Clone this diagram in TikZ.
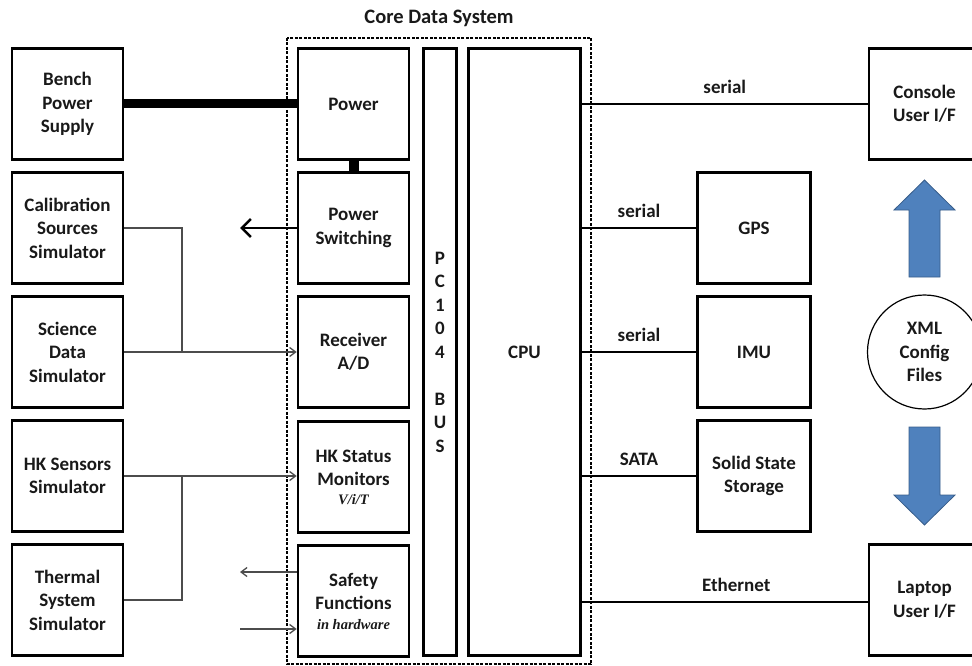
\documentclass[tikz,border=0pt]{standalone}
\usepackage{fontspec}
\setmainfont{Carlito}
\newfontfamily\notefont{Liberation Serif}
\newcommand\notestyle{\notefont\bfseries\itshape\fontsize{14.5}{16}\selectfont}
\usetikzlibrary{arrows.meta}
\definecolor{cfgfill}{RGB}{79,129,189}
\definecolor{cfgedge}{RGB}{56,93,138}

\begin{document}
\begin{tikzpicture}[x=1pt,y=-1pt,
  blk/.style={draw=black,line width=2.6pt,minimum width=111pt,minimum height=111pt,
    inner sep=2pt,align=center,text=black!90,
    font=\bfseries\fontsize{19}{23.5}\selectfont},
  tall/.style={blk,minimum height=607pt},
  frame/.style={draw=black,line width=2.2pt,dash pattern=on 3pt off 1.5pt},
  feed/.style={draw=black!70,line width=1.3pt},
  thin tip/.style={-{Straight Barb[length=6pt,width=9pt,line width=1.3pt]}},
  link/.style={draw=black,line width=1.2pt},
  lbl/.style={above=6pt,font=\bfseries\fontsize{19}{21}\selectfont,text=black!90},
  cfg/.style={fill=cfgfill,draw=cfgedge,line width=0.8pt}
]
\useasboundingbox (0,0) rectangle (972,666);

% title and boundary of the core data system
\node[font=\bfseries\fontsize{20.5}{23}\selectfont,text=black!90] (title) at (439,18) {Core Data System};
\draw[frame] (287,38) rectangle (591,664);

% simulators and bench equipment
\node[blk] (bench) at (67.5,104) {Bench\\Power\\Supply};
\node[blk] (cal)   at (67.5,228) {Calibration\\Sources\\Simulator};
\node[blk] (sci)   at (67.5,352) {Science\\Data\\Simulator};
\node[blk] (hks)   at (67.5,476) {HK Sensors\\Simulator};
\node[blk] (therm) at (67.5,600) {Thermal\\System\\Simulator};

% core data system modules
\node[blk] (power) at (353.5,104) {Power};
\node[blk] (psw)   at (353.5,228) {Power\\Switching};
\node[blk] (rx)    at (353.5,352) {Receiver\\A/D};
\node[blk] (hkm)   at (353.5,477) {HK Status\\Monitors\\[-5pt]{\notestyle V/i/T}};
\node[blk] (safe)  at (353.5,601) {Safety\\Functions\\[-4pt]{\notestyle in hardware}};
\node[tall,minimum width=33pt] (bus) at (440,352) {P\\C\\1\\0\\4\\\mbox{}\\B\\U\\S};
\node[tall,minimum width=112pt] (cpu) at (524.5,352) {CPU};

% peripherals
\node[blk,minimum width=113pt] (gps) at (754,228) {GPS};
\node[blk,minimum width=113pt] (imu) at (754,352) {IMU};
\node[blk,minimum width=113pt] (sss) at (754,476) {Solid State\\Storage};
\node[blk] (console) at (924.5,104) {Console\\User I/F};
\node[blk] (laptop)  at (924.5,600) {Laptop\\User I/F};
\node[draw=black,line width=1.2pt,circle,minimum size=114pt,inner sep=0pt,align=center,
  text=black!90,font=\bfseries\fontsize{19}{23.5}\selectfont] (xml) at (924.5,352) {XML\\Config\\Files};

% power distribution
\draw[line width=9pt] (bench.east) -- (power.west);
\draw[line width=10pt] (power.south) -- (psw.north);
\coordinate (pswend) at (240,228);
\draw[line width=2.5pt,-{Straight Barb[length=9pt,width=18pt]}] (psw.west) -- (pswend);

% simulator feeds
\coordinate (ja) at (182,352);
\coordinate (jb) at (182,476);
\draw[feed] (cal.east) -| (ja);
\draw[feed,thin tip] (sci.east) -- (rx.west);
\draw[feed] (therm.east) -| (jb);
\draw[feed,thin tip] (hks.east) -- (hkm.west |- hks.east);

% safety lines
\coordinate (sout) at (240,572);
\coordinate (sin)  at (240,629);
\draw[feed,thin tip] (safe.west |- sout) -- (sout);
\draw[feed,thin tip] (sin) -- (safe.west |- sin);

% CPU interfaces
\draw[link] (cpu.east |- console.west) -- node[lbl] {serial} (console.west);
\draw[link] (cpu.east |- gps.west) -- node[lbl] {serial} (gps.west);
\draw[link] (cpu.east |- imu.west) -- node[lbl] {serial} (imu.west);
\draw[link] (cpu.east |- sss.west) -- node[lbl] {SATA} (sss.west);
\coordinate (eth) at (cpu.east |- 0,602);
\draw[link] (eth) -- node[lbl,pos=0.54] {Ethernet} (laptop.west |- eth);

% configuration flow
\draw[cfg] (909,277) -- (909,210) -- (894,210) -- (924.5,180) -- (955,210) -- (940,210) -- (940,277) -- cycle;
\draw[cfg] (909,427) -- (940,427) -- (940,495) -- (955,495) -- (924.5,525) -- (894,495) -- (909,495) -- cycle;
\end{tikzpicture}
\end{document}
